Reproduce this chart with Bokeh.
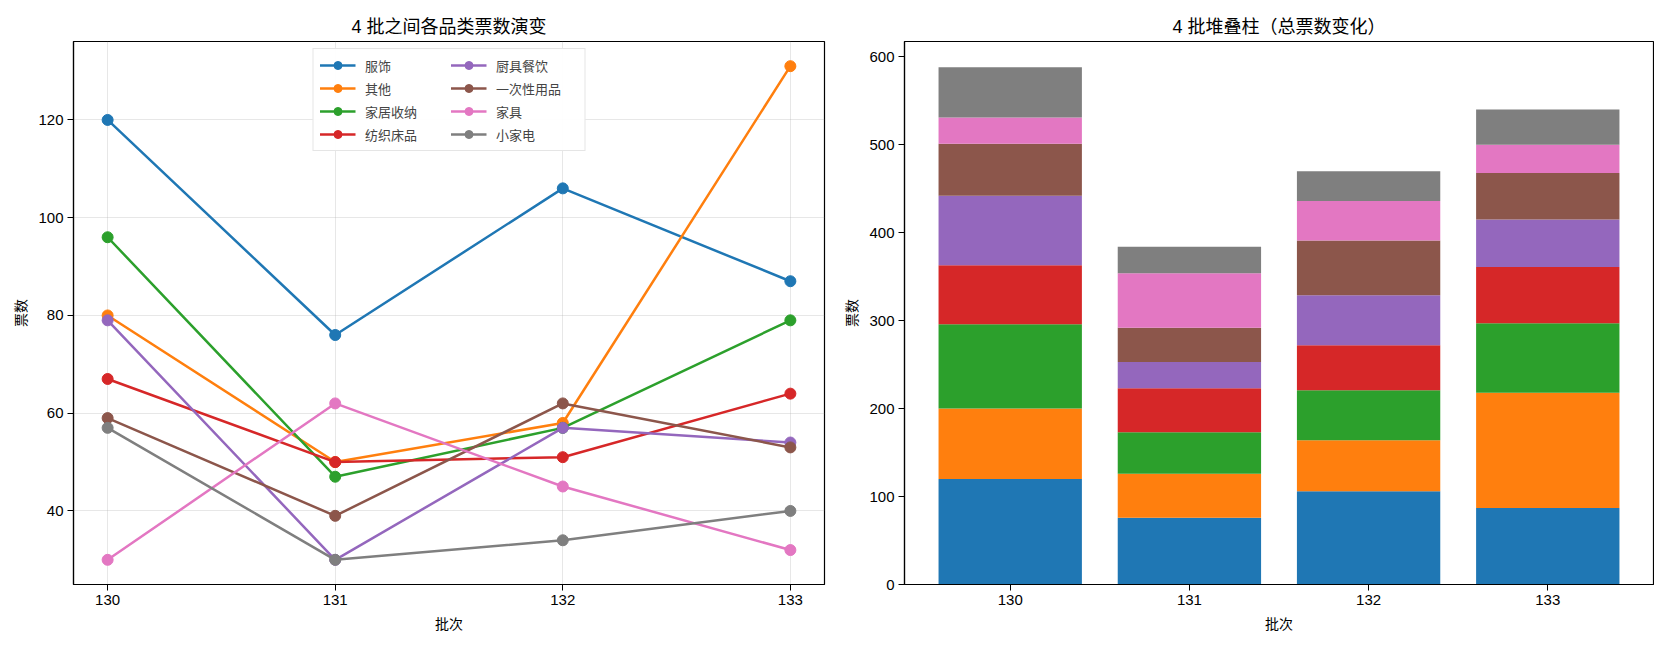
from bokeh.plotting import figure
from bokeh.models import ColumnDataSource, Range1d, FixedTicker, Legend, LegendItem
from bokeh.layouts import row
from bokeh.embed import file_html
from bokeh.resources import INLINE

# batches and vote counts per category
batches = [130, 131, 132, 133]
categories = ["服饰", "其他", "家居收纳", "纺织床品", "厨具餐饮", "一次性用品", "家具", "小家电"]
fushi = [120, 76, 106, 87]
qita = [80, 50, 58, 131]
jiaju_shouna = [96, 47, 57, 79]
fangzhi_chuangpin = [67, 50, 51, 64]
chuju_canyin = [79, 30, 57, 54]
yicixing = [59, 39, 62, 53]
jiaju = [30, 62, 45, 32]
xiaojiadian = [57, 30, 34, 40]

series = [fushi, qita, jiaju_shouna, fangzhi_chuangpin, chuju_canyin, yicixing, jiaju, xiaojiadian]
colors = ["#1f77b4", "#ff7f0e", "#2ca02c", "#d62728", "#9467bd", "#8c564b", "#e377c2", "#7f7f7f"]

FONT = "Liberation Sans, Noto Sans CJK SC"


def style(p, grid):
    p.title.text_font = FONT
    p.title.text_font_size = "18px"
    p.title.text_font_style = "normal"
    p.title.text_color = "black"
    p.title.align = "center"
    p.outline_line_color = "black"
    p.outline_line_width = 1.2
    p.outline_line_alpha = 1
    for ax in (p.xaxis[0], p.yaxis[0]):
        ax.major_label_text_font = FONT
        ax.major_label_text_font_size = "15px"
        ax.major_label_text_color = "black"
        ax.axis_label_text_font = FONT
        ax.axis_label_text_font_size = "14px"
        ax.axis_label_text_font_style = "normal"
        ax.axis_label_text_color = "black"
        ax.axis_line_color = "black"
        ax.axis_line_width = 1.2
        ax.major_tick_line_color = "black"
        ax.major_tick_out = 6
        ax.major_tick_in = 0
        ax.minor_tick_line_color = None
        ax.major_label_standoff = 4
    p.xaxis.axis_label_standoff = 8
    p.yaxis.axis_label_standoff = 6
    if grid:
        p.grid.grid_line_color = "#b0b0b0"
        p.grid.grid_line_alpha = 0.3
    else:
        p.grid.grid_line_color = None


# left: line chart
p1 = figure(width=831, height=637, output_backend="svg", toolbar_location=None,
            title="4 批之间各品类票数演变",
            x_range=Range1d(129.85, 133.15), y_range=Range1d(24.95, 136.05),
            min_border_left=73, min_border_right=7, min_border_top=41, min_border_bottom=53)
style(p1, True)
p1.xaxis.ticker = FixedTicker(ticks=batches)
p1.yaxis.ticker = FixedTicker(ticks=[40, 60, 80, 100, 120])
p1.xaxis.axis_label = "批次"
p1.yaxis.axis_label = "票数"

items = []
for name, vals, c in zip(categories, series, colors):
    r1 = p1.line(batches, vals, line_color=c, line_width=2.5)
    r2 = p1.scatter(batches, vals, size=11, fill_color=c, line_color=c)
    items.append(LegendItem(label=name, renderers=[r1, r2]))

legend = Legend(items=items, location="top_center", ncols=2,
                label_text_font=FONT, label_text_font_size="13px",
                border_line_color="#cccccc", border_line_width=1,
                glyph_width=36, glyph_height=20, label_standoff=10, label_width=82,
                spacing=3, padding=6, margin=7, label_height=20)
p1.add_layout(legend, "center")

# right: stacked bars
src = ColumnDataSource(dict(x=list(range(len(batches))),
                            **{f"c{i}": s for i, s in enumerate(series)}))
p2 = figure(width=823, height=637, output_backend="svg", toolbar_location=None,
            title="4 批堆叠柱（总票数变化）",
            x_range=Range1d(-0.59, 3.59), y_range=Range1d(0, 617.4),
            min_border_left=73, min_border_right=1, min_border_top=41, min_border_bottom=53)
style(p2, False)
p2.vbar_stack([f"c{i}" for i in range(len(series))], x="x", width=0.8,
              color=colors, line_color=None, source=src)
p2.xaxis.ticker = FixedTicker(ticks=list(range(len(batches))))
p2.xaxis.major_label_overrides = {i: str(b) for i, b in enumerate(batches)}
p2.yaxis.ticker = FixedTicker(ticks=[0, 100, 200, 300, 400, 500, 600])
p2.xaxis.axis_label = "批次"
p2.yaxis.axis_label = "票数"

layout = row(p1, p2)
open("out.html", "w").write(file_html(layout, INLINE))
